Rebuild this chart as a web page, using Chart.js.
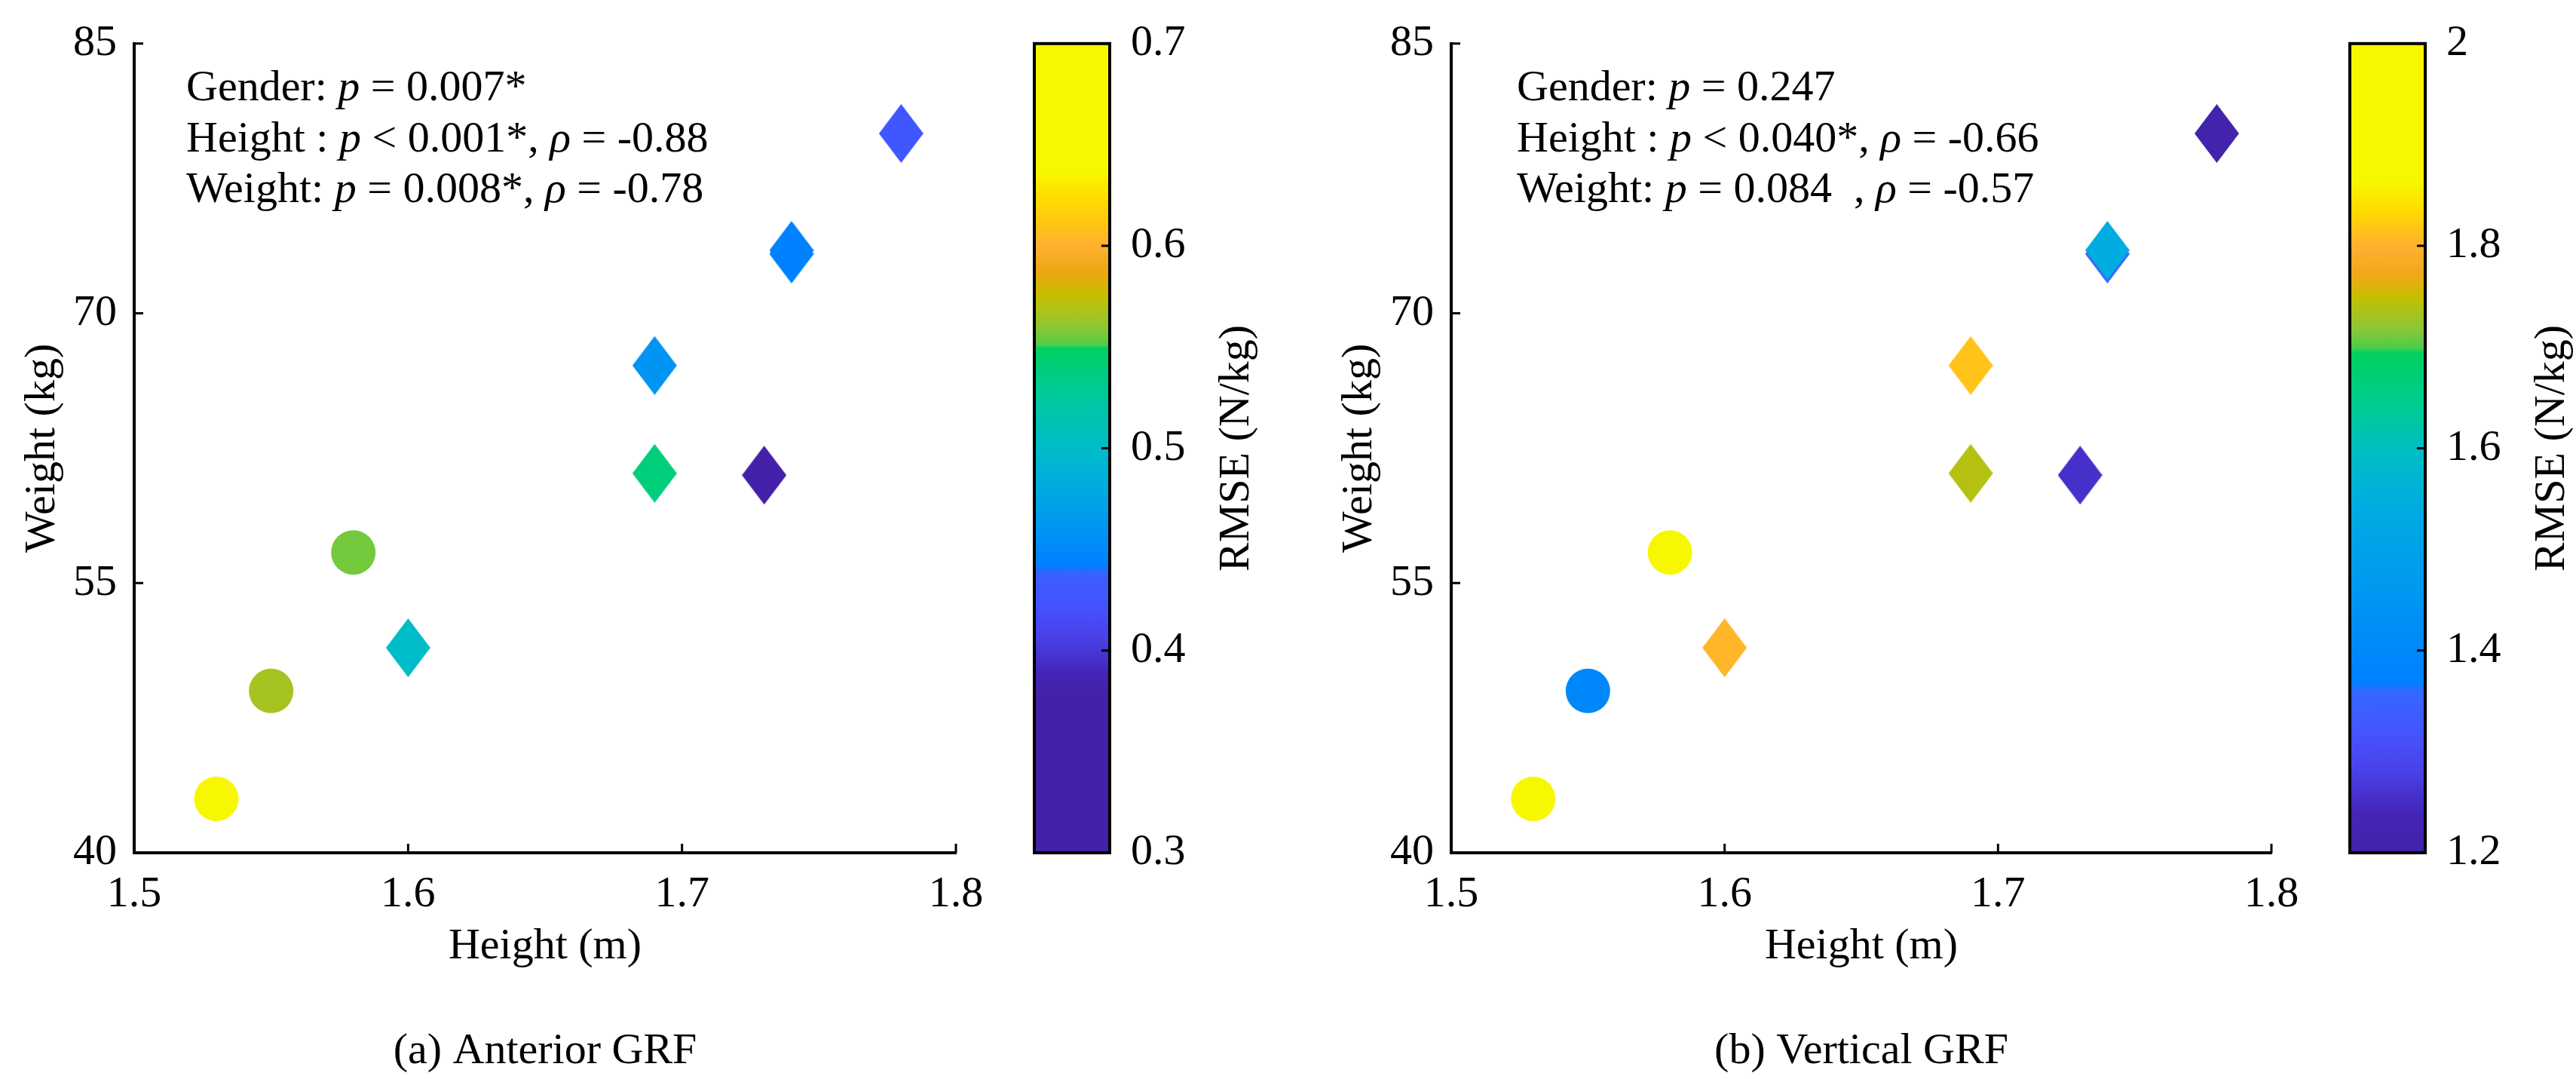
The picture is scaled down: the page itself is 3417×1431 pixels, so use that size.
<!DOCTYPE html>
<html>
<head>
<meta charset="utf-8">
<title>RMSE by height and weight</title>
<script src="https://cdn.jsdelivr.net/npm/chart.js@4.4.1/dist/chart.umd.min.js"></script>
<style>
    html, body { margin: 0; padding: 0; background: #fff; }
    body { width: 3417px; height: 1431px; position: relative; overflow: hidden; }
    canvas { position: absolute; top: 0; }
    #anteriorChart { left: 0; }
    #verticalChart { left: 1708px; }
</style>
</head>
<body>
<canvas id="anteriorChart" width="1708" height="1431"></canvas>
<canvas id="verticalChart" width="1709" height="1431"></canvas>
<script>
// Subjects (same order in both panels)
const heights = [1.53, 1.55, 1.58, 1.60, 1.69, 1.69, 1.73, 1.74, 1.74, 1.78];
const weights = [43.0, 49.0, 56.7, 51.4, 67.1, 61.1, 61.0, 73.3, 73.5, 80.0];
const gender = ['F', 'F', 'F', 'M', 'M', 'M', 'M', 'M', 'M', 'M'];

// RMSE (N/kg) per subject
const rmseAnterior = [0.70, 0.565, 0.556, 0.50, 0.46, 0.54, 0.36, 0.442, 0.443, 0.428];
const rmseVertical = [2.00, 1.40, 1.90, 1.805, 1.815, 1.74, 1.256, 1.36, 1.542, 1.21];

// Axis ticks
const xTicks = [1.5, 1.6, 1.7, 1.8];
const yTicks = [40, 55, 70, 85];
const cbTicksAnterior = [0.3, 0.4, 0.5, 0.6, 0.7];
const cbTicksVertical = [1.2, 1.4, 1.6, 1.8, 2];

// Statistics text, [text, italic]
const statsAnterior = [
    [['Gender: ', false], ['p', true], [' = 0.007*', false]],
    [['Height : ', false], ['p', true], [' < 0.001*, ', false], ['\u03C1', true], [' = -0.88', false]],
    [['Weight: ', false], ['p', true], [' = 0.008*, ', false], ['\u03C1', true], [' = -0.78', false]]
];
const statsVertical = [
    [['Gender: ', false], ['p', true], [' = 0.247', false]],
    [['Height : ', false], ['p', true], [' < 0.040*, ', false], ['\u03C1', true], [' = -0.66', false]],
    [['Weight: ', false], ['p', true], [' = 0.084  , ', false], ['\u03C1', true], [' = -0.57', false]]
];

// Colour maps (t = 0 bottom, 1 top)
const mapAnterior = [
    [0, '#4321A8'], [0.197, '#4321A8'], [0.223, '#4426B8'], [0.263, '#4A3FE6'],
    [0.30, '#4550FF'], [0.345, '#3A60FF'], [0.355, '#0080FF'], [0.407, '#0098F0'],
    [0.453, '#00ACE0'], [0.50, '#00BCC8'], [0.54, '#00C4B0'], [0.585, '#00CC8A'],
    [0.624, '#00D060'], [0.627, '#50CC48'], [0.644, '#80C838'], [0.664, '#A8C420'],
    [0.69, '#C8BE00'], [0.716, '#E8A810'], [0.75, '#FFB030'], [0.78, '#FFC810'],
    [0.815, '#FFE000'], [0.84, '#F7F700'], [1, '#F7F700']
];
const mapVertical = [
    [0, '#4321A8'], [0.05, '#4426B8'], [0.10, '#4A40E8'], [0.15, '#4555FF'],
    [0.20, '#3468FF'], [0.21, '#0080FF'], [0.327, '#0098F0'], [0.428, '#00ACE0'],
    [0.50, '#00BEC2'], [0.554, '#00CC90'], [0.617, '#00D060'], [0.625, '#50CC48'],
    [0.646, '#88C838'], [0.688, '#C8BE00'], [0.713, '#EFA818'], [0.75, '#FFB030'],
    [0.79, '#FFD800'], [0.83, '#F7F700'], [1, '#F7F700']
];

const FONT_FAMILY = '"Liberation Serif", "Times New Roman", serif';
const FONT_SIZE = 58;

Chart.defaults.color = '#000';
Chart.defaults.font.family = FONT_FAMILY;

function hexToRgb(h) {
    return [parseInt(h.slice(1, 3), 16), parseInt(h.slice(3, 5), 16), parseInt(h.slice(5, 7), 16)];
}

function colormapAt(stops, t) {
    t = Math.min(1, Math.max(0, t));
    for (let i = 1; i < stops.length; i++) {
        if (t <= stops[i][0]) {
            const t0 = stops[i - 1][0], t1 = stops[i][0];
            const a = hexToRgb(stops[i - 1][1]), b = hexToRgb(stops[i][1]);
            const f = t1 > t0 ? (t - t0) / (t1 - t0) : 0;
            return 'rgb(' + a.map((v, k) => Math.round(v + (b[k] - v) * f)).join(',') + ')';
        }
    }
    return stops[stops.length - 1][1];
}

// MATLAB-style diamond marker (taller than wide)
const diamondCache = {};
function diamondMarker(color) {
    if (diamondCache[color]) return diamondCache[color];
    const c = document.createElement('canvas');
    c.width = 59;
    c.height = 78;
    const g = c.getContext('2d');
    g.fillStyle = color;
    g.beginPath();
    g.moveTo(29.5, 0);
    g.lineTo(59, 39);
    g.lineTo(29.5, 78);
    g.lineTo(0, 39);
    g.closePath();
    g.fill();
    diamondCache[color] = c;
    return c;
}

function fixedTicks(values) {
    return function (scale) {
        scale.ticks = values.map(v => ({ value: v }));
    };
}

// Draws inward ticks, colour bar, stats text and caption
function makeDecor(p) {
    return {
        id: 'panelDecor',
        afterDraw(chart) {
            const ctx = chart.ctx;
            const a = chart.chartArea;
            const xs = chart.scales.x, ys = chart.scales.y, cb = chart.scales.cb;
            ctx.save();

            // inward axis ticks
            ctx.strokeStyle = '#000';
            ctx.lineWidth = 3;
            ctx.beginPath();
            xTicks.forEach(v => {
                const px = xs.getPixelForValue(v);
                ctx.moveTo(px, a.bottom);
                ctx.lineTo(px, a.bottom - 12);
            });
            yTicks.forEach(v => {
                const py = ys.getPixelForValue(v);
                ctx.moveTo(a.left, py);
                ctx.lineTo(a.left + 12, py);
            });
            ctx.stroke();

            // colour bar
            const x0 = a.right + 104, x1 = a.right + 204;
            const grad = ctx.createLinearGradient(0, cb.bottom, 0, cb.top);
            p.stops.forEach(s => grad.addColorStop(s[0], s[1]));
            ctx.fillStyle = grad;
            ctx.fillRect(x0, cb.top, x1 - x0, cb.bottom - cb.top);
            ctx.lineWidth = 4;
            ctx.strokeRect(x0, cb.top, x1 - x0, cb.bottom - cb.top);
            ctx.lineWidth = 3;
            ctx.beginPath();
            p.cbTicks.forEach(v => {
                const py = cb.getPixelForValue(v);
                ctx.moveTo(x1, py);
                ctx.lineTo(x1 - 11, py);
            });
            ctx.stroke();

            ctx.fillStyle = '#000';
            ctx.font = FONT_SIZE + 'px ' + FONT_FAMILY;

            // colour bar label
            ctx.save();
            ctx.translate(a.right + 373, (cb.top + cb.bottom) / 2);
            ctx.rotate(-Math.PI / 2);
            ctx.textAlign = 'center';
            ctx.textBaseline = 'middle';
            ctx.fillText('RMSE (N/kg)', 0, 0);
            ctx.restore();

            // statistics
            ctx.textAlign = 'left';
            ctx.textBaseline = 'alphabetic';
            const baselines = [133, 201, 268];
            p.stats.forEach((line, i) => {
                let x = a.left + p.statsOffset;
                line.forEach(seg => {
                    ctx.font = (seg[1] ? 'italic ' : '') + FONT_SIZE + 'px ' + FONT_FAMILY;
                    ctx.fillText(seg[0], x, baselines[i]);
                    x += ctx.measureText(seg[0]).width;
                });
            });

            // caption
            ctx.font = FONT_SIZE + 'px ' + FONT_FAMILY;
            ctx.textAlign = 'center';
            ctx.fillText(p.caption, (a.left + a.right) / 2, 1410);

            ctx.restore();
        }
    };
}

function initPanel(p) {
    const canvas = document.getElementById(p.canvasId);
    if (!canvas) return;

    const colors = p.rmse.map(v => colormapAt(p.stops, (v - p.cbMin) / (p.cbMax - p.cbMin)));
    const tickFont = { family: FONT_FAMILY, size: FONT_SIZE };

    try {
        const data = {
            datasets: [{
                data: heights.map((h, i) => ({ x: h, y: weights[i] })),
                backgroundColor: colors,
                borderWidth: 0,
                pointBorderWidth: 0,
                pointRadius: 29.5,
                pointStyle: function (context) {
                    const i = context.dataIndex;
                    return gender[i] === 'F' ? 'circle' : diamondMarker(colors[i]);
                }
            }]
        };

        const config = {
            type: 'scatter',
            data: data,
            options: {
                responsive: false,
                animation: false,
                events: [],
                layout: {
                    autoPadding: false,
                    padding: { top: 45, left: 0, right: 0, bottom: 0 }
                },
                plugins: {
                    legend: { display: false },
                    tooltip: { enabled: false }
                },
                scales: {
                    x: {
                        type: 'linear',
                        position: 'bottom',
                        min: 1.5,
                        max: 1.8,
                        afterBuildTicks: fixedTicks(xTicks),
                        afterFit: function (scale) { scale.height = 300; },
                        grid: { display: false, drawTicks: false },
                        border: { display: true, color: '#000', width: 4 },
                        ticks: {
                            font: tickFont,
                            color: '#000',
                            padding: 21,
                            callback: function (value) { return String(value); }
                        },
                        title: {
                            display: true,
                            text: 'Height (m)',
                            font: tickFont,
                            color: '#000',
                            padding: { top: 0, bottom: 140 }
                        }
                    },
                    y: {
                        type: 'linear',
                        position: 'left',
                        min: 40,
                        max: 85,
                        afterBuildTicks: fixedTicks(yTicks),
                        afterFit: function (scale) { scale.width = p.plotLeft; },
                        grid: { display: false, drawTicks: false },
                        border: { display: true, color: '#000', width: 4 },
                        ticks: {
                            font: tickFont,
                            color: '#000',
                            padding: 23,
                            callback: function (value) { return String(value); }
                        },
                        title: {
                            display: true,
                            text: 'Weight (kg)',
                            font: tickFont,
                            color: '#000',
                            padding: { top: p.plotLeft - 121 - FONT_SIZE * 0.6, bottom: 0 }
                        }
                    },
                    cb: {
                        type: 'linear',
                        position: 'right',
                        min: p.cbMin,
                        max: p.cbMax,
                        afterBuildTicks: fixedTicks(p.cbTicks),
                        afterFit: function (scale) {
                            scale.width = p.width - p.plotRight;
                            // the wide label offset must not push the plot area down
                            scale.paddingTop = 0;
                            scale.paddingBottom = 0;
                        },
                        grid: { display: false, drawTicks: false },
                        border: { display: false },
                        ticks: {
                            font: tickFont,
                            color: '#000',
                            padding: 232,
                            callback: function (value) { return String(value); }
                        }
                    }
                }
            },
            plugins: [makeDecor(p)]
        };

        new Chart(canvas, config);
    } catch (error) {
        console.error('Failed to initialize ' + p.canvasId + ':', error);
    }
}

// (a) Anterior GRF
initPanel({
    canvasId: 'anteriorChart',
    width: 1708,
    plotLeft: 178,
    plotRight: 1268,
    rmse: rmseAnterior,
    stops: mapAnterior,
    cbMin: 0.3,
    cbMax: 0.7,
    cbTicks: cbTicksAnterior,
    stats: statsAnterior,
    statsOffset: 69,
    caption: '(a) Anterior GRF'
});

// (b) Vertical GRF
initPanel({
    canvasId: 'verticalChart',
    width: 1709,
    plotLeft: 217,
    plotRight: 1305,
    rmse: rmseVertical,
    stops: mapVertical,
    cbMin: 1.2,
    cbMax: 2,
    cbTicks: cbTicksVertical,
    stats: statsVertical,
    statsOffset: 87,
    caption: '(b) Vertical GRF'
});
</script>
</body>
</html>
